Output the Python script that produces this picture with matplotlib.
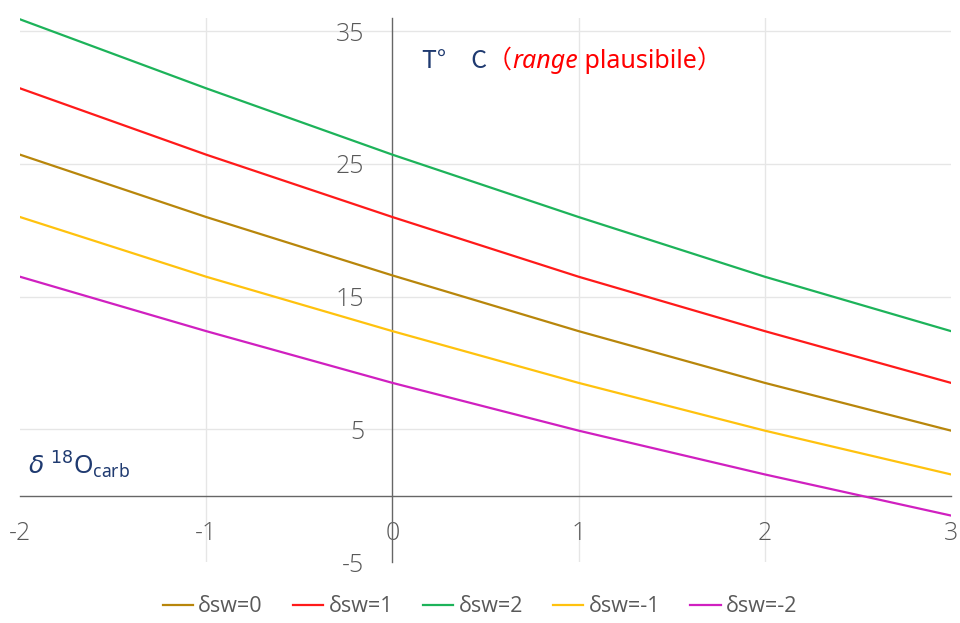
import matplotlib
matplotlib.use("Agg")
import matplotlib.pyplot as plt

# ---- data ----
x_vals = [-2, -1, 0, 1, 2, 3]
sw0 = [25.7, 21.0, 16.6, 12.4, 8.5, 4.9]
sw1 = [30.7, 25.7, 21.0, 16.5, 12.4, 8.5]
sw2 = [35.9, 30.7, 25.7, 21.0, 16.5, 12.4]
swm1 = [21.0, 16.5, 12.4, 8.5, 4.9, 1.6]
swm2 = [16.5, 12.4, 8.5, 4.9, 1.6, -1.5]

series_labels = ["δsw=0", "δsw=1", "δsw=2", "δsw=-1", "δsw=-2"]
series_values = [sw0, sw1, sw2, swm1, swm2]
series_colors = ["#B8860B", "#FF1A1A", "#1DB35A", "#FFC20E", "#D020C0"]

x_ticks = [-2, -1, 0, 1, 2, 3]
y_ticks = [-5, 5, 15, 25, 35]

plt.rcParams['font.family'] = ['Open Sans', 'DejaVu Sans']

fig = plt.figure(figsize=(9.6, 6.23), dpi=100)
ax = fig.add_axes([20/960, 1 - 562/623, 931/960, (562 - 18)/623])
ax.set_xlim(-2, 3)
ax.set_ylim(-5, 36)

# gridlines
for gx in [-1, 1, 2]:
    ax.axvline(gx, color="#E6E6E6", lw=1, zorder=0)
for gy in [5, 15, 25, 35]:
    ax.axhline(gy, color="#E6E6E6", lw=1, zorder=0)

handles = []
for lab, vals, col in zip(series_labels, series_values, series_colors):
    ln, = ax.plot(x_vals, vals, color=col, lw=1.6, label=lab, zorder=3)
    handles.append(ln)

for s in ['top', 'right']:
    ax.spines[s].set_visible(False)
ax.spines['left'].set_position(('data', 0))
ax.spines['bottom'].set_position(('data', 0))
ax.spines['left'].set_color('#666666')
ax.spines['bottom'].set_color('#666666')
ax.spines['left'].set_linewidth(1.0)
ax.spines['bottom'].set_linewidth(1.0)

ax.set_xticks(x_ticks)
ax.set_xticklabels([str(v) for v in x_ticks])
ax.set_yticks(y_ticks)
ax.set_yticklabels([str(v) for v in y_ticks])
ax.tick_params(axis='both', length=0, labelsize=18, labelcolor='#595959')
ax.tick_params(axis='y', pad=20)
ax.tick_params(axis='x', pad=18)
for t in ax.get_xticklabels() + ax.get_yticklabels():
    t.set_fontweight('light')

# title-like annotation
navy = '#1F3A70'
fs = 18
t1 = ax.text(422/960, 1 - 61/623, "T°\u3000C", transform=fig.transFigure,
             color=navy, fontsize=fs, va='center', ha='left',
             family=['Noto Sans CJK JP', 'DejaVu Sans'])
t2 = ax.annotate("（", xy=(1, 0), xycoords=t1, va='bottom', ha='left',
                 color='#FF0000', fontsize=fs, family=['Noto Sans CJK JP'])
t3 = ax.annotate("range", xy=(1, 0), xycoords=t2, va='bottom', ha='left',
                 color='#FF0000', fontsize=fs, style='italic',
                 family=['Noto Sans', 'DejaVu Sans'])
t4 = ax.annotate(" plausibile", xy=(1, 0), xycoords=t3, va='bottom', ha='left',
                 color='#FF0000', fontsize=fs, family=['Noto Sans', 'DejaVu Sans'])
t5 = ax.annotate("）", xy=(1, 0), xycoords=t4, va='bottom', ha='left',
                 color='#FF0000', fontsize=fs, family=['Noto Sans CJK JP'])

ax.text(28/960, 1 - 465/623, r"$\delta$ $^{18}$O$_{\mathregular{carb}}$",
        transform=fig.transFigure, color=navy, fontsize=18,
        va='center', ha='left', family=['Noto Sans', 'DejaVu Sans'])

leg = fig.legend(handles=handles, labels=series_labels, loc='center',
                 bbox_to_anchor=(0.5, 1 - 607/623), ncol=5, frameon=False,
                 fontsize=15.5, handlelength=1.4, handletextpad=0.25,
                 columnspacing=1.4, labelcolor='#595959')
for ln in leg.get_lines():
    ln.set_linewidth(1.6)

fig.savefig("out.png", dpi=100)
